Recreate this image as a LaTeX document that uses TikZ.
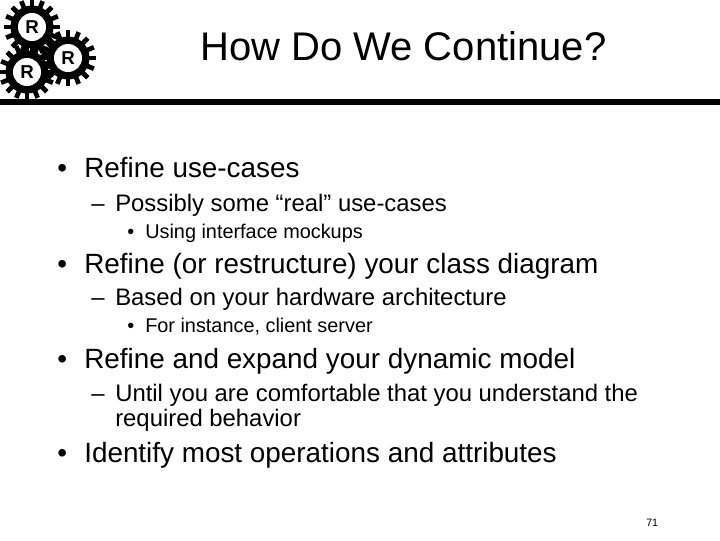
\documentclass[tikz,border=0pt]{standalone}
\usepackage{fontspec}
\setmainfont{Liberation Sans}
\tikzset{
  titletext/.style={anchor=base west,inner sep=0pt,font=\fontsize{30}{36}\selectfont},
  levelone/.style={anchor=base west,inner sep=0pt,font=\fontsize{20.9}{24}\selectfont},
  leveltwo/.style={anchor=base west,inner sep=0pt,font=\fontsize{17.9}{20.5}\selectfont},
  levelthree/.style={anchor=base west,inner sep=0pt,font=\fontsize{14.9}{16}\selectfont},
  pagetext/.style={anchor=base west,inner sep=0pt,font=\fontsize{8}{10}\selectfont},
  gearletter/.style={inner sep=0pt,font=\fontsize{14}{14}\bfseries\selectfont},
}
\newcommand{\geardraw}[4]{% name, x, y, letter
  \foreach \toothangle in {0,22.5,...,337.5}{
    \draw [line width=3.5pt] (#2,#3) -- +(\toothangle:28) ;
  }
  \fill [black] (#2,#3) circle (21.5) ;
  \fill [white] (#2,#3) circle (14) ;
  \node [gearletter] (#1) at (#2,#3) {#4};
}
\begin{document}
\begin{tikzpicture}[x=0.75pt,y=0.75pt,yscale=-1,xscale=1]
\useasboundingbox (0,0) rectangle (720,540);
\fill [white] (0,0) rectangle (720,540);

% Gears
\geardraw{gearTop}{32}{27}{R}
\geardraw{gearBottom}{27}{72}{R}
\geardraw{gearRight}{68}{58}{R}

% Rule
\fill [black] (0,99) rectangle (720,105);

% Title
\node [titletext] (title) at (200,60) {How Do We Continue?};

% Bullets
\node [levelone] (bulletA) at (57,177) {•};
\node [levelone] (itemA) at (84,177) {Refine use-cases};
\node [leveltwo] (dashA) at (91,211.5) {–};
\node [leveltwo] (subA) at (115,211.5) {Possibly some “real” use-cases};
\node [levelthree] (dotA) at (127,238) {•};
\node [levelthree] (subsubA) at (145,238) {Using interface mockups};

\node [levelone] (bulletB) at (57,273) {•};
\node [levelone] (itemB) at (84,273) {Refine (or restructure) your class diagram};
\node [leveltwo] (dashB) at (91,305.5) {–};
\node [leveltwo] (subB) at (115,305.5) {Based on your hardware architecture};
\node [levelthree] (dotB) at (127,332.5) {•};
\node [levelthree] (subsubB) at (145,332.5) {For instance, client server};

\node [levelone] (bulletC) at (57,368) {•};
\node [levelone] (itemC) at (84,368) {Refine and expand your dynamic model};
\node [leveltwo] (dashC) at (91,401) {–};
\node [leveltwo] (subC) at (115,401) {Until you are comfortable that you understand the};
\node [leveltwo] (subCb) at (115,426.5) {required behavior};

\node [levelone] (bulletD) at (57,462.5) {•};
\node [levelone] (itemD) at (84,462.5) {Identify most operations and attributes};

% Page number
\node [pagetext] (pagenum) at (646,526) {71};
\end{tikzpicture}
\end{document}
